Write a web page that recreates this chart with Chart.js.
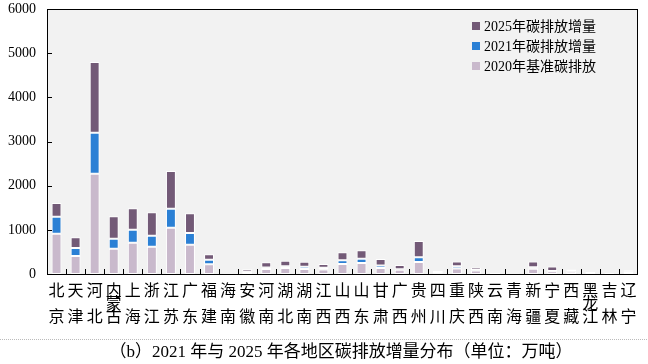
<!DOCTYPE html>
<html>
<head>
<meta charset="utf-8">
<script src="https://cdn.jsdelivr.net/npm/chart.js@4"></script>
<style>
  body { margin: 0; background: #fff; }
  #box { width: 648px; height: 364px; }
</style>
</head>
<body>
<div id="box"><canvas id="myChart"></canvas></div>
<script>
// 地区（按图中顺序）
const regions = ['北京', '天津', '河北', '内蒙古', '上海', '浙江', '江苏', '广东', '福建', '海南',
  '安徽', '河南', '湖北', '湖南', '江西', '山西', '山东', '甘肃', '广西', '贵州', '四川',
  '重庆', '陕西', '云南', '青海', '新疆', '宁夏', '西藏', '黑龙江', '吉林', '辽宁'];

// 2020年基准碳排放（万吨）
const base2020 = [910, 410, 2270, 570, 705, 615, 1045, 660, 220, 10, 45, 115, 135, 115, 100,
  225, 250, 135, 95, 270, 15, 125, 80, 25, 10, 120, 65, 50, 45, 20, 45];
// 2021年碳排放增量
const inc2021 = [385, 180, 930, 230, 295, 250, 430, 270, 105, 0, 5, 30, 40, 50, 40,
  85, 95, 60, 10, 110, 5, 50, 10, 3, 0, 35, 5, 5, 0, 0, 5];
// 2025年碳排放增量
const inc2025 = [310, 240, 1600, 510, 490, 535, 855, 445, 120, 0, 55, 120, 125, 115, 85,
  180, 190, 145, 100, 370, 50, 110, 60, 8, 0, 130, 100, 45, 5, 0, 35];

const yTicks = [0, 1000, 2000, 3000, 4000, 5000, 6000];
const seriesNames = ['2020年基准碳排放', '2021年碳排放增量', '2025年碳排放增量'];
const titleText = '（b）2021 年与 2025 年各地区碳排放增量分布（单位：万吨）';

const serif = '"Liberation Serif", "Noto Sans CJK SC", serif';

// 背景、边框、刻度、分类标签、图例和标题
const decor = {
  id: 'decor',
  beforeDatasetsDraw(chart) {
    const { ctx, chartArea: a } = chart;
    ctx.save();
    ctx.fillStyle = '#f2f2f2';
    ctx.fillRect(a.left, a.top, a.right - a.left, a.bottom - a.top);
    ctx.restore();
  },
  afterDraw(chart) {
    const { ctx, chartArea: a } = chart;
    const x = chart.scales.x, y = chart.scales.y;
    ctx.save();
    ctx.strokeStyle = '#000';
    ctx.lineWidth = 1;
    ctx.strokeRect(Math.round(a.left) + 0.5, Math.round(a.top) + 0.5,
      Math.round(a.right - a.left) - 1, Math.round(a.bottom - a.top));
    // y 刻度（向内）
    ctx.beginPath();
    yTicks.forEach(v => {
      const py = Math.round(y.getPixelForValue(v)) + 0.5;
      ctx.moveTo(a.left, py);
      ctx.lineTo(a.left + 5, py);
    });
    // x 刻度（分类之间，向上）
    for (let i = 1; i < regions.length; i++) {
      const px = Math.round((x.getPixelForValue(i - 1) + x.getPixelForValue(i)) / 2) + 0.5;
      ctx.moveTo(px, a.bottom);
      ctx.lineTo(px, a.bottom - 5);
    }
    ctx.stroke();

    // 分类标签（竖排）
    ctx.fillStyle = '#000';
    ctx.font = '16px "Noto Sans CJK SC"';
    ctx.textAlign = 'center';
    ctx.textBaseline = 'middle';
    regions.forEach((r, i) => {
      const px = x.getPixelForValue(i);
      const chars = r.split('');
      if (chars.length === 2) {
        ctx.fillText(chars[0], px, 290);
        ctx.fillText(chars[1], px, 316);
      } else {
        ctx.fillText(chars[0], px, 290);
        ctx.fillText(chars[1], px, 303);
        ctx.fillText(chars[2], px, 316);
      }
    });

    // 图例
    ctx.font = '14px ' + serif;
    ctx.textAlign = 'left';
    const ds = chart.data.datasets.slice().reverse();
    ds.forEach((d, i) => {
      const cy = 26 + i * 20;
      ctx.fillStyle = d.backgroundColor;
      ctx.fillRect(472, cy - 4, 8, 8);
      ctx.fillStyle = '#000';
      ctx.fillText(d.label, 484, cy + 1);
    });

    // 虚线和标题
    ctx.strokeStyle = '#bbb';
    ctx.setLineDash([1, 1]);
    ctx.beginPath();
    ctx.moveTo(0, 339.5);
    ctx.lineTo(648, 339.5);
    ctx.stroke();
    ctx.setLineDash([]);
    ctx.fillStyle = '#000';
    ctx.font = '17px ' + serif;
    ctx.textAlign = 'center';
    ctx.fillText(titleText, 341, 353);
    ctx.restore();
  }
};

const ctx = document.getElementById('myChart').getContext('2d');
const myChart = new Chart(ctx, {
  type: 'bar',
  data: {
    labels: regions,
    datasets: [
      { label: seriesNames[0], data: base2020, backgroundColor: '#c9b9cc' },
      { label: seriesNames[1], data: inc2021, backgroundColor: '#2b80d5' },
      { label: seriesNames[2], data: inc2025, backgroundColor: '#735a77' }
    ]
  },
  options: {
    responsive: true,
    maintainAspectRatio: false,
    animation: false,
    layout: { padding: { top: 9, right: 10, bottom: 0, left: 0 } },
    datasets: {
      bar: {
        borderColor: '#ffffff',
        borderWidth: 1,
        borderSkipped: false,
        categoryPercentage: 1,
        barPercentage: 0.52
      }
    },
    plugins: {
      legend: { display: false },
      tooltip: { enabled: false }
    },
    scales: {
      x: {
        stacked: true,
        grid: { display: false },
        border: { display: false },
        ticks: { display: false },
        afterFit: s => { s.height = 90; s.paddingLeft = 0; s.paddingRight = 0; }
      },
      y: {
        stacked: true,
        min: 0,
        max: 6000,
        ticks: {
          stepSize: 1000,
          color: '#000',
          padding: 11,
          font: { family: serif, size: 14 },
          callback: v => String(v)
        },
        grid: { display: false, drawTicks: false },
        border: { display: false },
        afterFit: s => { s.width = 47; s.paddingTop = 0; s.paddingBottom = 0; }
      }
    }
  },
  plugins: [decor]
});
</script>
</body>
</html>
